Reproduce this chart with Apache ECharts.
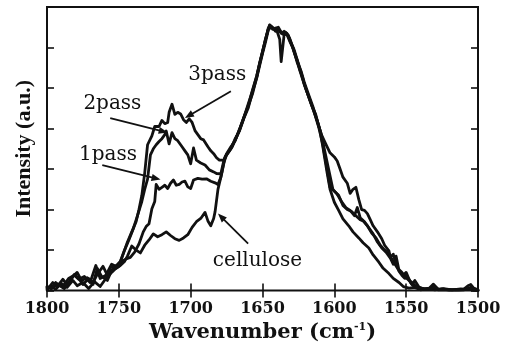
<!DOCTYPE html>
<html>
<head>
<meta charset="utf-8">
<script src="https://cdn.jsdelivr.net/npm/echarts@6/dist/echarts.min.js"></script>
<style>
  html, body { margin: 0; padding: 0; background: #fff; }
  #chart { width: 505px; height: 348px; }
</style>
</head>
<body>
<div id="chart"></div>
<script>
// FTIR spectra, amide / carbonyl region: [wavenumber (cm^-1), intensity (a.u.)]
const cellulose = [
  [1800,0.05],[1797,0.12],[1794,0.03],[1790,0.18],[1786,0.08],[1782,0.25],[1779,0.12],[1775,0.2],[1771,0.05],
  [1767,0.22],[1763,0.1],[1759,0.3],[1755,0.45],[1752,0.55],[1749,0.62],[1746,0.72],[1744,0.85],[1741,1.1],
  [1738,1.0],[1735,0.93],[1732,1.12],[1729,1.25],[1726,1.4],[1723,1.33],[1720,1.38],[1717,1.45],[1714,1.36],
  [1711,1.28],[1708,1.24],[1705,1.3],[1702,1.38],[1699,1.56],[1696,1.7],[1693,1.78],[1690,1.93],[1688,1.72],
  [1686,1.6],[1684,1.78],[1683,1.95],[1681,2.5],[1678,2.95],[1676,3.3],[1673,3.45],[1671,3.55],[1668,3.8],
  [1666,3.98],[1663,4.26],[1660,4.55],[1657,4.85],[1654,5.27],[1652,5.6],[1650,5.9],[1648,6.18],[1646,6.45],
  [1644,6.52],[1641,6.42],[1639,6.45],[1636,6.33],[1634,6.38],[1632,6.27],[1629,6.0],[1626,5.7],[1624,5.43],
  [1621,5.1],[1619,4.9],[1616,4.6],[1613,4.35],[1610,3.95],[1608,3.55],[1605,2.9],[1603,2.5],[1600,2.18],
  [1597,1.98],[1594,1.77],[1590,1.6],[1587,1.45],[1583,1.3],[1580,1.18],[1576,1.05],[1573,0.88],[1569,0.7],
  [1566,0.55],[1562,0.42],[1559,0.3],[1555,0.2],[1552,0.1],[1548,0.06],[1544,0.08],[1540,0.02],[1535,0.05],
  [1530,0.02],[1525,0.04],[1520,0.01],[1515,0.03],[1510,0.02],[1506,0.05],[1503,0.02],[1500,0.01]
];
const pass1 = [
  [1800,0.1],[1797,0.05],[1793,0.15],[1789,0.1],[1785,0.3],[1781,0.38],[1778,0.28],[1774,0.35],[1770,0.2],
  [1766,0.62],[1763,0.3],[1759,0.38],[1755,0.65],[1752,0.6],[1749,0.7],[1745,0.78],[1742,0.82],[1739,0.95],
  [1736,1.15],[1733,1.45],[1731,1.58],[1729,1.65],[1727,2.02],[1725,2.2],[1724,2.62],[1722,2.5],[1720,2.55],
  [1718,2.6],[1716,2.52],[1714,2.65],[1712,2.73],[1710,2.6],[1708,2.62],[1706,2.68],[1704,2.7],[1702,2.56],
  [1700,2.52],[1698,2.73],[1695,2.77],[1692,2.75],[1689,2.76],[1686,2.7],[1683,2.66],[1681,2.62],[1679,2.8],
  [1677,3.15],[1675,3.35],[1672,3.5],[1669,3.75],[1666,3.95],[1663,4.25],[1660,4.5],[1657,4.9],[1654,5.25],
  [1652,5.55],[1650,5.85],[1648,6.12],[1646,6.42],[1645,6.56],[1643,6.5],[1641,6.4],[1639,6.46],[1637,6.35],
  [1635,6.4],[1632,6.3],[1630,6.1],[1628,5.95],[1625,5.6],[1622,5.25],[1620,5.0],[1617,4.7],[1614,4.4],
  [1611,4.05],[1608,3.6],[1606,3.2],[1603,2.55],[1600,2.45],[1597,2.35],[1594,2.1],[1591,2.0],[1588,1.95],
  [1585,1.85],[1582,1.75],[1580,1.72],[1577,1.6],[1574,1.42],[1571,1.3],[1568,1.12],[1565,1.0],[1562,0.9],
  [1559,0.72],[1556,0.55],[1553,0.45],[1550,0.32],[1548,0.25],[1546,0.2],[1543,0.1],[1540,0.06],[1536,0.03],
  [1532,0.08],[1528,0.02],[1524,0.05],[1518,0.02],[1512,0.04],[1507,0.03],[1504,0.02],[1500,0]
];
const pass2 = [
  [1800,0.02],[1796,0.2],[1793,0.1],[1789,0.28],[1786,0.15],[1782,0.35],[1779,0.45],[1776,0.25],[1772,0.32],
  [1768,0.15],[1765,0.55],[1762,0.35],[1758,0.25],[1755,0.5],[1752,0.6],[1749,0.72],[1746,1.0],[1743,1.25],
  [1740,1.52],[1737,1.85],[1734,2.2],[1732,2.5],[1730,2.75],[1728,3.35],[1726,3.5],[1724,3.6],[1722,3.68],
  [1720,3.75],[1718,3.85],[1717,3.94],[1715,3.62],[1713,3.9],[1711,3.75],[1709,3.7],[1706,3.55],[1704,3.45],
  [1702,3.35],[1700,3.13],[1698,3.52],[1696,3.22],[1693,3.15],[1690,3.1],[1687,2.98],[1684,2.93],[1682,2.89],
  [1679,2.88],[1677,3.2],[1675,3.38],[1672,3.55],[1669,3.7],[1666,3.98],[1663,4.28],[1660,4.55],[1657,4.95],
  [1654,5.3],[1652,5.6],[1650,5.88],[1648,6.2],[1646,6.45],[1644,6.5],[1642,6.46],[1640,6.42],[1638,6.2],
  [1637,5.65],[1635,6.3],[1633,6.35],[1631,6.22],[1629,6.02],[1626,5.65],[1623,5.35],[1621,5.1],[1618,4.8],
  [1615,4.5],[1612,4.2],[1609,3.85],[1607,3.5],[1604,3.0],[1601,2.5],[1598,2.38],[1595,2.2],[1592,2.05],
  [1589,1.98],[1586,1.85],[1584,2.05],[1582,1.8],[1579,1.7],[1576,1.55],[1573,1.4],[1570,1.2],[1567,1.05],
  [1564,0.95],[1561,0.8],[1559,0.65],[1557,0.85],[1555,0.5],[1552,0.38],[1550,0.45],[1548,0.28],[1546,0.15],
  [1544,0.25],[1541,0.08],[1537,0.04],[1534,0.06],[1531,0.16],[1528,0.04],[1522,0.03],[1516,0.02],[1510,0.03],
  [1507,0.12],[1505,0.15],[1503,0.06],[1500,0.02]
];
const pass3 = [
  [1800,0.08],[1797,0.05],[1794,0.2],[1791,0.12],[1788,0.05],[1784,0.22],[1781,0.4],[1778,0.3],[1775,0.15],
  [1771,0.3],[1768,0.2],[1765,0.4],[1761,0.6],[1758,0.38],[1755,0.62],[1752,0.55],[1750,0.6],[1747,0.9],
  [1744,1.2],[1741,1.45],[1738,1.7],[1736,2.0],[1734,2.35],[1732,2.9],[1730,3.6],[1727,3.82],[1725,4.05],
  [1722,4.05],[1720,4.2],[1718,4.12],[1716,4.15],[1715,4.4],[1713,4.6],[1711,4.35],[1709,4.4],[1707,4.36],
  [1705,4.22],[1703,4.15],[1701,4.24],[1699,4.15],[1697,3.95],[1695,3.85],[1693,3.75],[1691,3.72],[1688,3.55],
  [1686,3.45],[1684,3.38],[1682,3.28],[1680,3.22],[1677,3.22],[1675,3.36],[1672,3.52],[1669,3.72],[1666,3.95],
  [1663,4.27],[1660,4.6],[1657,4.92],[1654,5.3],[1652,5.62],[1650,5.9],[1648,6.18],[1646,6.48],[1645,6.55],
  [1643,6.45],[1641,6.48],[1639,6.5],[1637,6.38],[1635,6.36],[1633,6.32],[1631,6.15],[1629,6.0],[1626,5.68],
  [1623,5.4],[1621,5.15],[1618,4.85],[1615,4.55],[1612,4.2],[1609,3.85],[1606,3.62],[1603,3.4],[1600,3.3],
  [1598,3.2],[1596,3.0],[1594,2.8],[1591,2.65],[1589,2.4],[1587,2.5],[1585,2.55],[1583,2.25],[1581,2.0],
  [1579,1.98],[1577,1.9],[1575,1.75],[1573,1.6],[1570,1.45],[1567,1.28],[1565,1.12],[1562,0.98],[1561,0.82],
  [1559,0.9],[1557,0.65],[1555,0.48],[1553,0.38],[1551,0.3],[1549,0.33],[1547,0.2],[1545,0.12],[1542,0.08],
  [1538,0.05],[1533,0.03],[1530,0.1],[1527,0.02],[1520,0.02],[1513,0.01],[1508,0.03],[1505,0.08],[1502,0.03],
  [1500,0]
];

// Callout labels: text anchor and arrow (tail -> head), all in data units
const labelNames = ['3pass', '2pass', '1pass', 'cellulose'];
const labelAt    = [[1681.5, 5.33], [1754.5, 4.6], [1757.5, 3.35], [1653.5, 0.74]];
const arrowTail  = [[1672, 4.92], [1756, 4.26], [1761.5, 3.1], [1660, 1.16]];
const arrowHead  = [[1704, 4.26], [1716, 3.9], [1721, 2.74], [1681, 1.9]];

const ink = '#111';
const axisFont = 'DejaVu Serif';

const chart = echarts.init(document.getElementById('chart'), null, { renderer: 'canvas' });

function spectrum(name, data) {
  return {
    name, type: 'line', data, showSymbol: false, symbol: 'none',
    lineStyle: { color: ink, width: 2.8, join: 'round', cap: 'round' },
    animation: false
  };
}

const tickStyle = { show: true, inside: true, length: 7, lineStyle: { color: ink, width: 1.6 } };

chart.setOption({
  animation: false,
  grid: { left: 47, right: 27, top: 7, bottom: 52, show: true, borderColor: ink, borderWidth: 2, backgroundColor: 'transparent' },
  xAxis: [{
    type: 'value', min: 1500, max: 1800, interval: 50, inverse: true, position: 'bottom',
    axisLine: { show: false }, axisTick: tickStyle, splitLine: { show: false },
    axisLabel: {
      color: ink, fontFamily: axisFont, fontWeight: 'bold', fontSize: 16, margin: 10,
      formatter: v => String(v)
    },
    name: '{t|Wavenumber (cm}{s|-1}{t|)}', nameLocation: 'middle', nameGap: 26,
    nameTextStyle: {
      rich: {
        t: { fontFamily: axisFont, fontWeight: 'bold', fontSize: 21, color: ink },
        s: { fontFamily: axisFont, fontWeight: 'bold', fontSize: 11, color: ink, verticalAlign: 'top', padding: [0, 0, 11, 0] }
      }
    }
  }, {
    type: 'value', min: 1500, max: 1800, interval: 50, inverse: true, position: 'top',
    axisLine: { show: false }, axisTick: tickStyle, axisLabel: { show: false }, splitLine: { show: false }
  }],
  yAxis: [{
    type: 'value', min: 0, max: 7, interval: 1, position: 'left',
    axisLine: { show: false }, axisTick: tickStyle, axisLabel: { show: false }, splitLine: { show: false },
    name: 'Intensity (a.u.)', nameLocation: 'middle', nameGap: 12,
    nameTextStyle: { fontFamily: 'Liberation Serif', fontWeight: 'bold', fontSize: 22, color: ink }
  }, {
    type: 'value', min: 0, max: 7, interval: 1, position: 'right',
    axisLine: { show: false }, axisTick: tickStyle, axisLabel: { show: false }, splitLine: { show: false }
  }],
  series: [
    spectrum('cellulose', cellulose),
    spectrum('1pass', pass1),
    spectrum('2pass', pass2),
    spectrum('3pass', pass3)
  ]
});

// Callout texts and arrows placed through the axes' own scales
function drawCallouts() {
  const els = [];
  labelNames.forEach((txt, i) => {
    const p = chart.convertToPixel({ gridIndex: 0 }, labelAt[i]);
    const a = chart.convertToPixel({ gridIndex: 0 }, arrowTail[i]);
    const b = chart.convertToPixel({ gridIndex: 0 }, arrowHead[i]);
    els.push({
      type: 'text', x: p[0], y: p[1], z: 10,
      style: { text: txt, fontFamily: axisFont, fontSize: 20, fill: ink, align: 'center', verticalAlign: 'middle' }
    });
    const dx = b[0] - a[0], dy = b[1] - a[1];
    const len = Math.hypot(dx, dy), ux = dx / len, uy = dy / len;
    const hl = 9, hw = 3.6;
    const bx = b[0] - ux * hl, by = b[1] - uy * hl;
    els.push({
      type: 'line', z: 10,
      shape: { x1: a[0], y1: a[1], x2: bx + ux * 2, y2: by + uy * 2 },
      style: { stroke: ink, lineWidth: 1.8 }
    });
    els.push({
      type: 'polygon', z: 10,
      shape: { points: [[b[0], b[1]], [bx - uy * hw, by + ux * hw], [bx + uy * hw, by - ux * hw]] },
      style: { fill: ink }
    });
  });
  chart.setOption({ graphic: els });
}
drawCallouts();
</script>
</body>
</html>
